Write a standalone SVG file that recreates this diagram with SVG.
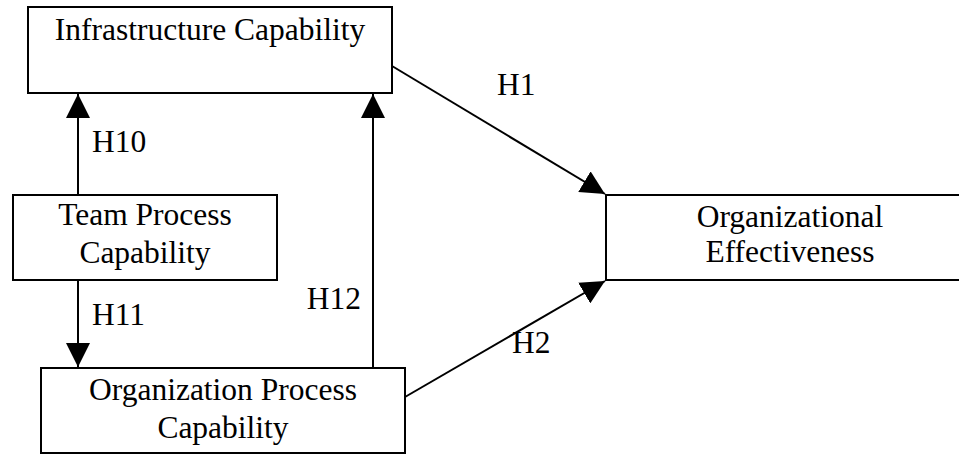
<svg xmlns="http://www.w3.org/2000/svg" width="959" height="455" viewBox="0 0 959 455">
<style>
.box{fill:#fff;stroke:#000;stroke-width:2}
.t{font-family:"Liberation Serif","Times New Roman",serif;font-size:31.5px;fill:#000}
.c{text-anchor:middle}
.ln{stroke:#000;stroke-width:2;fill:none;marker-end:url(#ah)}
</style>
<defs>
<marker id="ah" markerUnits="userSpaceOnUse" markerWidth="24" markerHeight="24" refX="22" refY="11" orient="auto" viewBox="0 0 22 22">
<path d="M0,0 L22,11 L0,22 Z" fill="#000"/>
</marker>
</defs>
<rect width="959" height="455" fill="#fff"/>
<g id="connectors">
<line class="ln" x1="78" y1="194" x2="78" y2="94"/>
<line class="ln" x1="78" y1="280" x2="78" y2="367"/>
<line class="ln" x1="373" y1="368" x2="373" y2="94"/>
<line class="ln" x1="392" y1="66" x2="605" y2="194"/>
<line class="ln" x1="405" y1="397" x2="605" y2="281"/>
<text class="t" x="497" y="95">H1</text>
<text class="t" x="92" y="152">H10</text>
<text class="t" x="92" y="325">H11</text>
<text class="t" x="361" y="309" text-anchor="end">H12</text>
<text class="t" x="512" y="353">H2</text>
</g>
<g id="infrastructure">
<rect class="box" x="28" y="7" width="364" height="86"/>
<text class="t c" x="210" y="40">Infrastructure Capability</text>
</g>
<g id="team">
<rect class="box" x="13" y="195" width="264" height="85"/>
<text class="t c" x="145" y="225">Team Process</text>
<text class="t c" x="145" y="263">Capability</text>
</g>
<g id="orgprocess">
<rect class="box" x="41" y="368" width="364" height="85"/>
<text class="t c" x="223" y="400">Organization Process</text>
<text class="t c" x="223" y="438">Capability</text>
</g>
<g id="effectiveness">
<rect class="box" x="606" y="195" width="360" height="85"/>
<text class="t c" x="790" y="227">Organizational</text>
<text class="t c" x="790" y="262">Effectiveness</text>
</g>
</svg>
